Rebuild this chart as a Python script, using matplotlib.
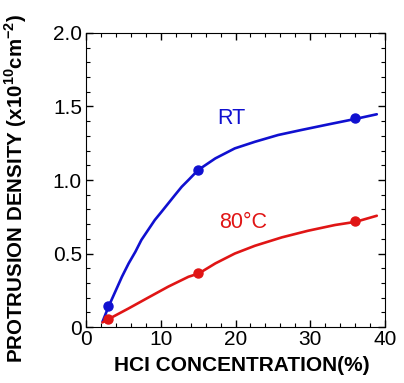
import matplotlib
matplotlib.use("Agg")
import matplotlib.pyplot as plt
from matplotlib.ticker import MultipleLocator

plt.rcParams['font.family'] = ['Liberation Sans', 'DejaVu Sans']
plt.rcParams['mathtext.fontset'] = 'custom'
plt.rcParams['mathtext.rm'] = 'Liberation Sans'
plt.rcParams['mathtext.bf'] = 'Liberation Sans:bold'

# measured points
hcl = [3, 15, 36]
rt = [0.14, 1.07, 1.42]
hot = [0.055, 0.365, 0.72]

# guide curves
rt_x = [2.2, 3.0, 3.9, 4.8, 5.7, 6.6, 7.4, 8.3, 9.2, 10.1, 11.0, 11.9, 12.8, 13.7,
        15.0, 17.3, 19.9, 22.6, 25.7, 28.8, 32.4, 36.0, 38.9]
rt_curve = [0.036, 0.138, 0.24, 0.342, 0.433, 0.512, 0.592, 0.66, 0.728, 0.784, 0.841,
            0.898, 0.954, 1.0, 1.068, 1.147, 1.215, 1.26, 1.306, 1.34, 1.378, 1.415, 1.447]
hot_x = [2.2, 3.0, 5.7, 8.3, 11.0, 13.7, 15.1, 17.3, 19.9, 22.6, 26.2, 29.7, 33.3, 36.1, 38.9]
hot_curve = [0.032, 0.054, 0.127, 0.2, 0.275, 0.342, 0.365, 0.433, 0.5, 0.553, 0.61,
             0.655, 0.694, 0.716, 0.757]

blue = '#1010d0'
red = '#e01515'

fig = plt.figure(figsize=(4.04, 3.83), dpi=100)
ax = fig.add_axes([0.213, 0.146, 0.74, 0.768])

ax.plot(rt_x, rt_curve, color=blue, lw=1.9, solid_capstyle='round', solid_joinstyle='round')
ax.plot(hot_x, hot_curve, color=red, lw=1.9, solid_capstyle='round', solid_joinstyle='round')
ax.plot(hcl, rt, 'o', color=blue, ms=6.5)
ax.plot(hcl, hot, 'o', color=red, ms=6.5)

ax.text(19.4, 1.42, 'RT', color=blue, fontsize=15.5, ha='center', va='center')
ax.text(21.0, 0.71, '80°C', color=red, fontsize=15.5, ha='center', va='center')

ax.set_xlim(0, 40)
ax.set_ylim(0, 2.0)
ax.xaxis.set_major_locator(MultipleLocator(10))
ax.xaxis.set_minor_locator(MultipleLocator(2))
ax.yaxis.set_major_locator(MultipleLocator(0.5))
ax.yaxis.set_minor_locator(MultipleLocator(0.1))
ax.set_yticks([0, 0.5, 1.0, 1.5, 2.0])
ax.set_yticklabels(['0', '0.5', '1.0', '1.5', '2.0'])
ax.tick_params(which='both', direction='in', top=True, right=True, labelsize=15)
ax.tick_params(which='major', length=5, width=1)
ax.tick_params(which='minor', length=3, width=0.8)
ax.tick_params(axis='x', pad=2)
ax.tick_params(axis='y', pad=3)

ax.set_xlabel('HCI CONCENTRATION(%)', fontsize=15, fontweight='bold')
ax.set_ylabel(r'PROTRUSION DENSITY (x10$^{\mathbf{10}}$cm$^{\mathbf{-2}}$)',
              fontsize=14.8, fontweight='bold')
ax.xaxis.set_label_coords(0.522, -0.1)
ax.yaxis.set_label_coords(-0.19, 0.47)

fig.savefig('out.png', dpi=100)
